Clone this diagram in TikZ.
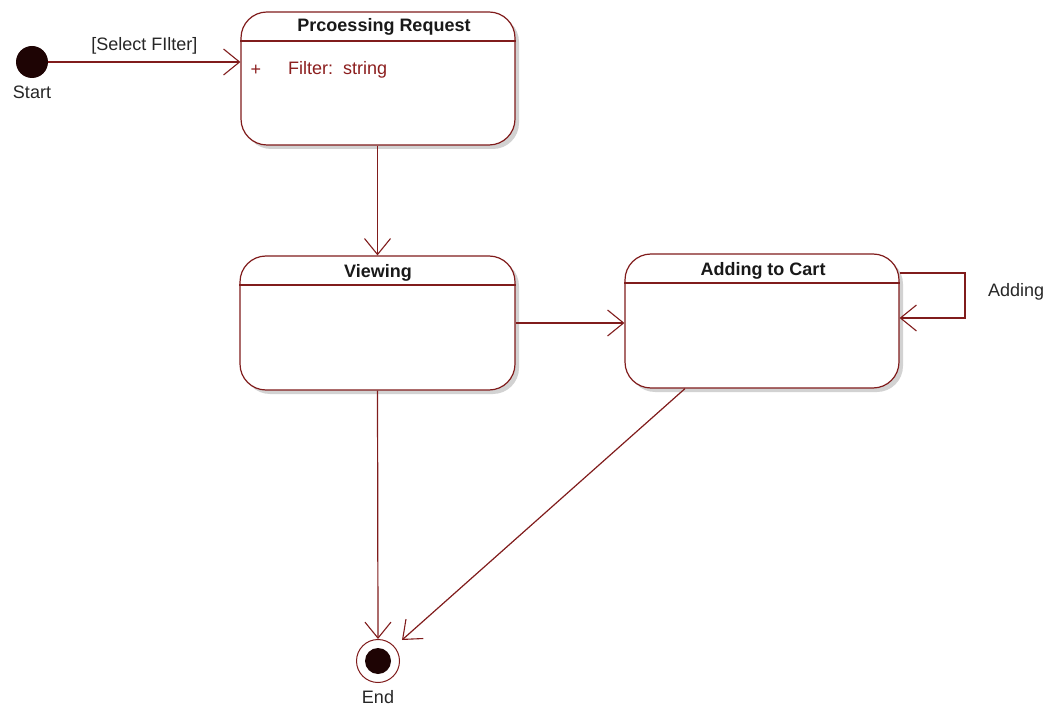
\documentclass[tikz,border=0pt]{standalone}
\usepackage{fontspec}
\setmainfont{Liberation Sans}
\usetikzlibrary{arrows.meta,shadows,calc}
\definecolor{umlred}{RGB}{128,28,28}
\definecolor{dotred}{RGB}{30,4,4}
\definecolor{txtred}{RGB}{140,30,30}
\tikzset{
  statebox/.style={draw=umlred, line width=1.2pt, fill=white, rounded corners=26pt,
    drop shadow={shadow xshift=4pt, shadow yshift=-4pt, fill=black!35}},
  headline/.style={draw=umlred, line width=1.2pt},
  titletext/.style={font=\fontsize{18}{21}\selectfont\bfseries, text=black!90, inner sep=0pt},
  labeltext/.style={font=\fontsize{18}{21}\selectfont, text=black!85, inner sep=0pt},
  conn/.style={draw=umlred, line width=1.2pt, -{Straight Barb[length=16pt, width=26pt, line width=1.1pt]}},
  pseudo/.style={circle, fill=dotred, draw=none, inner sep=0pt}
}
\begin{document}
\begin{tikzpicture}[x=1pt, y=-1pt]
\useasboundingbox (0,0) rectangle (1054,708);

% Start
\node[pseudo, minimum size=32pt] (start) at (32,62) {};
\node[labeltext] (startlbl) at (32,92) {Start};

% Processing Request
\node[statebox, minimum width=274pt, minimum height=133pt] (pr) at (378,78.5) {};
\draw[headline] (pr.west |- 0,41) -- (pr.east |- 0,41);
\node[titletext] (prtitle) at (384,27) {Prcoessing Request};
\node[font=\fontsize{18}{21}\selectfont, text=txtred, inner sep=0pt] (plus) at (256,70) {+};
\node[font=\fontsize{18}{21}\selectfont, text=txtred, inner sep=0pt, anchor=west] (attr) at (288,70) {Filter:\ \ string};

% Viewing
\node[statebox, minimum width=275pt, minimum height=134pt] (vw) at (377.5,323) {};
\draw[headline] (vw.west |- 0,285) -- (vw.east |- 0,285);
\node[titletext] (vwtitle) at (378,273) {Viewing};

% Adding to Cart
\node[statebox, minimum width=274pt, minimum height=134pt] (cart) at (762,321) {};
\draw[headline] (cart.west |- 0,283) -- (cart.east |- 0,283);
\node[titletext] (carttitle) at (763,271) {Adding to Cart};

% End
\node[circle, draw=umlred, line width=1pt, fill=white, minimum size=43pt, inner sep=0pt] (end) at (378,661) {};
\node[pseudo, minimum size=26pt] (endin) at (end) {};
\node[labeltext] (endlbl) at (378,697) {End};

% Connectors
\draw[conn] (start.east) -- (start.east -| pr.west)
  node[labeltext, midway, above=7pt] (sellbl) {[Select FIlter]};
\draw[conn] (vw.north |- pr.south) -- (vw.north);
\draw[conn] (vw.east) -- (vw.east -| cart.west);

\coordinate (l1) at (965,273);
\coordinate (l2) at (965,318);
\draw[conn] (cart.east |- l1) -- (l1) -- (l2) -- (l2 -| cart.east);
\node[labeltext, anchor=west] (addlbl) at (988,292) {Adding};

\draw[conn] (vw.south) -- (end.north);
\coordinate (cartout) at ($(cart.south)+(-77,0)$);
\coordinate (endin2) at (402,640);
\draw[conn] (cartout) -- (endin2);
\end{tikzpicture}
\end{document}
